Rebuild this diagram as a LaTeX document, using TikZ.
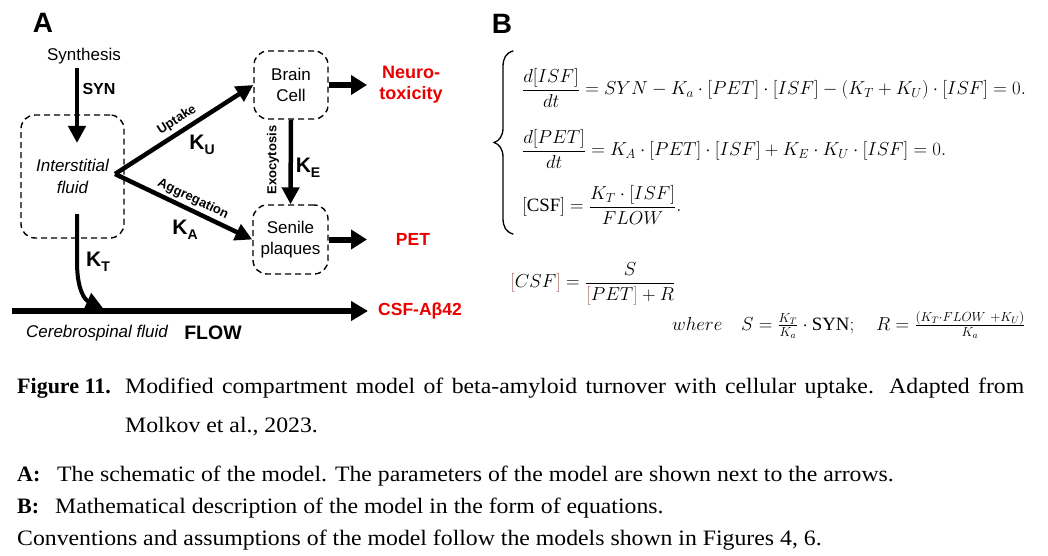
\RequirePackage{fix-cm}
\documentclass[tikz,border=0pt]{standalone}
\usepackage{amsmath}
\usepackage{fontspec}
\setmainfont{Liberation Serif}
\newfontfamily\capfont{Liberation Serif}[FakeStretch=1.08]
\newfontfamily\arial{Liberation Sans}
\usetikzlibrary{arrows.meta}
\definecolor{brn}{RGB}{160,105,100}
\definecolor{outred}{RGB}{235,0,0}
\newcommand\Ksub[1]{K\raisebox{-5pt}{\fontsize{14}{14}\selectfont #1}}
\newcommand\capbf[1]{{\rmfamily\bfseries #1}}
\begin{document}
\begin{tikzpicture}[x=1pt,y=-1pt,
 comp/.style={draw, line width=1.4pt, dash pattern=on 6pt off 4pt, rounded corners=14pt, align=center, font=\arial\fontsize{17}{21}\selectfont, inner sep=0pt},
 arr/.style={line width=4.5pt, -{Triangle[length=17pt,width=17pt]}},
 fat/.style={line width=6pt, -{Triangle[length=16pt,width=19pt]}},
 lab/.style={font=\arial\fontsize{17}{21}\selectfont, inner sep=0pt},
 blab/.style={font=\arial\bfseries\fontsize{16}{19}\selectfont, inner sep=0pt},
 outlab/.style={font=\arial\bfseries\fontsize{18}{21}\selectfont, text=outred, inner sep=0pt, align=center},
 klab/.style={font=\arial\bfseries\fontsize{21}{24}\selectfont, inner sep=0pt},
 slab/.style={font=\arial\bfseries\fontsize{13}{15}\selectfont, inner sep=0pt},
 panel/.style={font=\arial\bfseries\fontsize{28}{30}\selectfont, inner sep=0pt},
 eq/.style={anchor=west, inner sep=0pt, font=\fontsize{18.8}{23}\selectfont},
 captxt/.style={anchor=base west, inner sep=0pt, font=\capfont\fontsize{22}{26}\selectfont},
 bracestroke/.style={line width=1.3pt, line cap=round}
]
\useasboundingbox (0,0) rectangle (1048,556);

% ---------- Panel A ----------
\node[panel] (pA) at (43,23) {A};
\node[lab] (synth) at (84,56) {Synthesis};
\node[comp, minimum width=103pt, minimum height=123pt, font=\arial\itshape\fontsize{17}{22}\selectfont] (isf) at (72.5,176.5) {Interstitial\\fluid};
\node[comp, minimum width=74pt, minimum height=68pt] (brain) at (291,85) {Brain\\Cell};
\node[comp, minimum width=75pt, minimum height=69pt] (senile) at (290.5,239.5) {Senile\\plaques};
\node[outlab] (neuro) at (411,85) {Neuro-\\toxicity};
\node[outlab, font=\arial\bfseries\fontsize{17.5}{21}\selectfont] (pet) at (413,239) {PET};
\node[outlab, font=\arial\bfseries\fontsize{17.5}{21}\selectfont] (csf) at (420,311) {CSF-Aβ42};

\coordinate (synbot) at (77,68);
\coordinate (syntip) at (77,143);
\coordinate (fork) at (115,174);
\coordinate (neurotip) at (367,85);
\coordinate (pettip) at (367,239.5);
\coordinate (flowstart) at (12,311);
\coordinate (flowtip) at (368,311);
\coordinate (ktstart) at (77,214);
\coordinate (ktbend) at (77,262);
\coordinate (kttip) at (103,308);

\draw[arr] (synbot) -- (syntip);
\draw[arr] (fork) -- (brain.west);
\draw[arr] (fork) -- (senile.west);
\draw[arr] (brain.south) -- (senile.north);
\draw[fat] (brain.east) -- (neurotip);
\draw[fat] (senile.east) -- (pettip);
\draw[line width=5.5pt, -{Triangle[length=17pt,width=19pt]}] (flowstart) -- (flowtip);
\draw[arr, line width=4pt] (ktstart) -- (ktbend) .. controls (77,290) and (85,300) .. (kttip);

\node[blab] (synl) at (99,89) {SYN};
\node[klab] (kul) at (202,145) {\Ksub{U}};
\node[klab] (kel) at (308,168) {\Ksub{E}};
\node[klab] (kal) at (185,230) {\Ksub{A}};
\node[klab] (ktl) at (98,262) {\Ksub{T}};
\node[slab, rotate=32.4] (upl) at (177,120) {Uptake};
\node[slab, rotate=-25.4] (agl) at (193,199) {Aggregation};
\node[slab, rotate=90] (exl) at (273,160) {Exocytosis};
\node[lab, font=\arial\itshape\fontsize{17}{21}\selectfont] (cerl) at (97,333) {Cerebrospinal fluid};
\node[lab, font=\arial\bfseries\fontsize{19.5}{22}\selectfont] (flowl) at (213,333) {FLOW};

% ---------- Panel B ----------
\node[panel] (pB) at (502,24) {B};
\draw[bracestroke] (513,51) .. controls (506,53) and (503,58) .. (503,67) -- (503,128) .. controls (503,136) and (499,141) .. (494,142.5) .. controls (499,144) and (503,149) .. (503,157) -- (503,218) .. controls (503,227) and (506,232) .. (513,234);
\node[eq] (eq1) at (522,88) {$\dfrac{d[ISF]}{dt} = SYN - K_a\cdot[PET]\cdot[ISF] - (K_T+K_U)\cdot[ISF] = 0.$};
\node[eq] (eq2) at (522,149) {$\dfrac{d[PET]}{dt} = K_A\cdot[PET]\cdot[ISF] + K_E\cdot K_U\cdot[ISF] = 0.$};
\node[eq] (eq3) at (522,205) {$[\mathrm{CSF}] = \dfrac{K_T\cdot[ISF]}{FLOW}.$};
\node[eq] (eq4) at (510,284) {$\textcolor{brn}{[}CSF\textcolor{brn}{]} = \dfrac{S}{\textcolor{brn}{[}PET\textcolor{brn}{]}+R}$};
\node[eq] (eq5) at (672,325) {$where\quad S=\tfrac{K_T}{K_a}\cdot\mathrm{SYN};\quad R=\tfrac{(K_T\cdot FLOW\ +K_U)}{K_a}$};

% ---------- Caption ----------
\node[captxt] (c1) at (17,393) {\makebox[108pt][l]{\capbf{Figure 11.}}\hbox to 899pt{Modified compartment model of beta-amyloid turnover with cellular uptake. Adapted from}};
\node[captxt] (c2) at (125,432) {Molkov et al., 2023.};
\node[captxt] (c3a) at (17,481) {\capbf{A:}};
\node[captxt] (c3) at (57,481) {The schematic of the model. The parameters of the model are shown next to the arrows.};
\node[captxt] (c4a) at (17,513) {\capbf{B:}};
\node[captxt] (c4) at (55,513) {Mathematical description of the model in the form of equations.};
\node[captxt] (c5) at (17,545) {Conventions and assumptions of the model follow the models shown in Figures 4, 6.};
\end{tikzpicture}
\end{document}
